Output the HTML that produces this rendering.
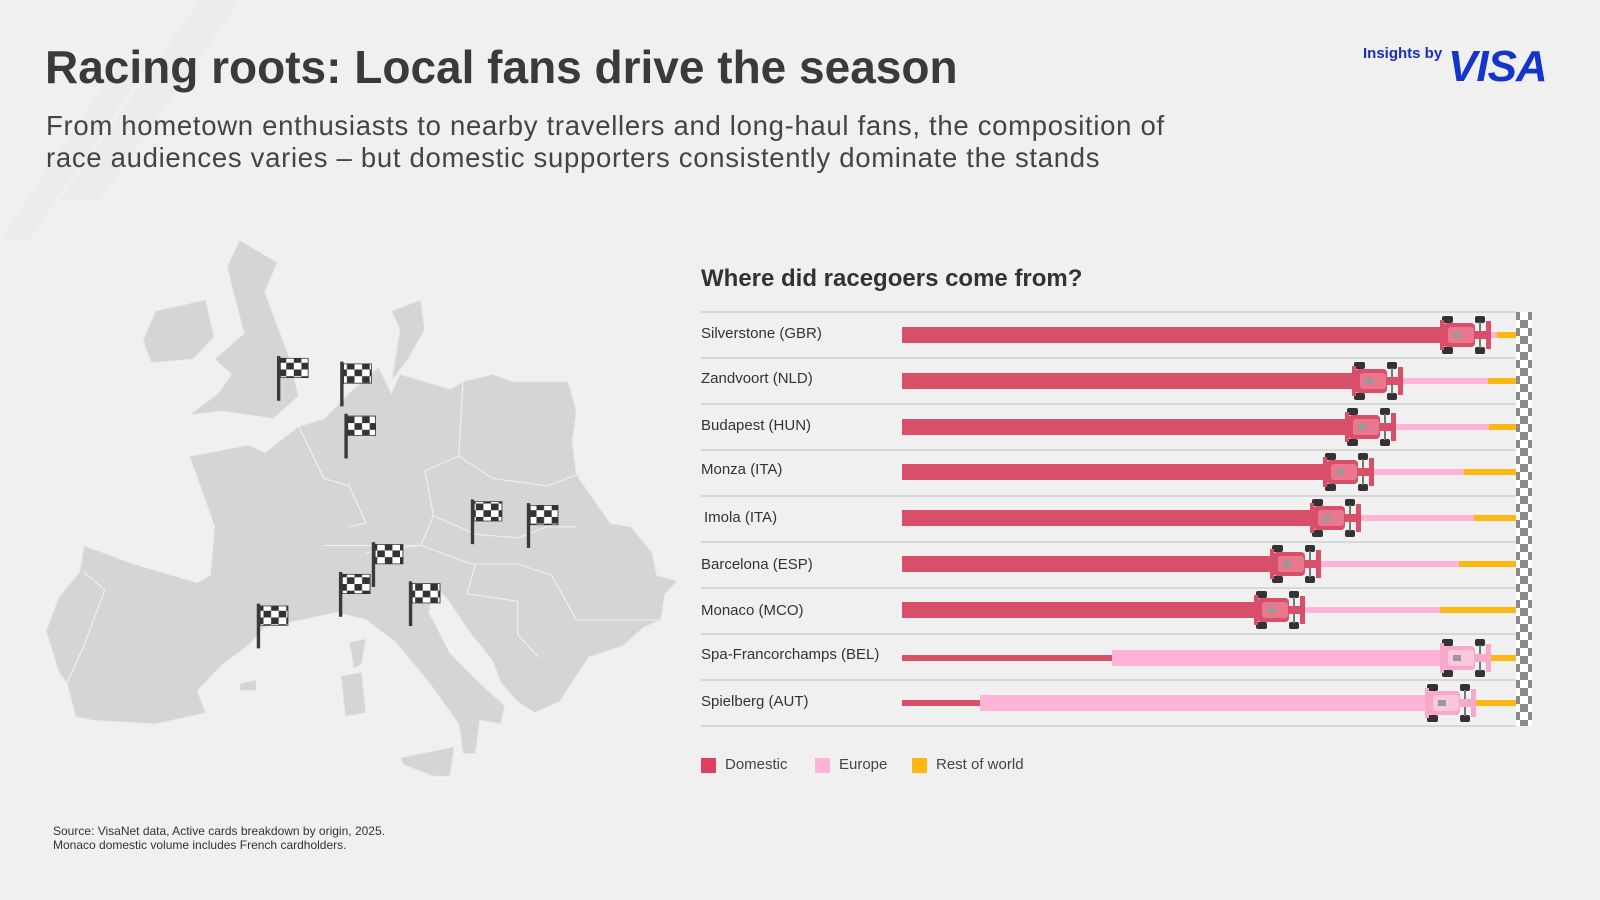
<!DOCTYPE html>
<html><head><meta charset="utf-8"><style>
body{margin:0;width:1600px;height:900px;background:#f0f0f0;font-family:"Liberation Sans",sans-serif;overflow:hidden;position:relative;color:#333}
.t{position:absolute;white-space:nowrap}
</style></head><body>
<svg width="1600" height="900" style="position:absolute;left:0;top:0">
<defs>
<pattern id="chk" width="16" height="16" patternUnits="userSpaceOnUse"><rect width="16" height="16" fill="#fff"/><rect width="8" height="8" fill="#8a8a8a"/><rect x="8" y="8" width="8" height="8" fill="#8a8a8a"/></pattern>
<pattern id="fl" width="36" height="36" patternUnits="userSpaceOnUse"><rect width="36" height="36" fill="#fff"/><rect width="18" height="18" fill="#333"/><rect x="18" y="18" width="18" height="18" fill="#333"/></pattern>
<g id="car" >
<rect x="2" y="-19" width="11" height="7" rx="2" fill="#333"/><rect x="2" y="12" width="11" height="7" rx="2" fill="#333"/>
<rect x="35" y="-19" width="10" height="7" rx="2" fill="#333"/><rect x="35" y="12" width="10" height="7" rx="2" fill="#333"/>
<rect x="39" y="-13" width="2" height="26" fill="#777"/>
<rect x="0" y="-15" width="4" height="30" fill="var(--c1)"/>
<rect x="3" y="-12" width="32" height="24" rx="4" fill="var(--c1)"/>
<rect x="8" y="-8" width="26" height="16" rx="3" fill="var(--c2)"/>
<rect x="34" y="-4" width="14" height="8" fill="var(--c1)"/>
<rect x="46" y="-14" width="5" height="28" fill="var(--c1)"/>
<rect x="13" y="-3" width="8" height="6" fill="#999"/>
</g>
</defs>
<g fill="#ebebeb" opacity="0.7"><path d="M0 240 L120 60 L150 60 L30 240Z"/><path d="M60 200 L200 0 L240 0 L100 200Z"/></g>
<g transform="translate(29,217.7) scale(0.4213,0.3724)" fill="#d5d5d5" stroke="#ececec" stroke-width="3">
<path d="M130 880 L250 930 L400 980 L430 960 L440 830 L380 640 L430 630 L520 610 L560 630 L640 560 L700 540 L760 470 L800 430 L830 400 L860 470 L880 420 L1000 460 L1030 440 L1100 420 L1150 440 L1280 440 L1300 520 L1290 600 L1300 690 L1380 820 L1430 830 L1480 900 L1490 960 L1540 975 L1510 1010 L1500 1080 L1460 1100 L1410 1150 L1330 1180 L1300 1230 L1260 1300 L1200 1330 L1160 1300 L1120 1250 L1100 1190 L1050 1120 L990 1020 L960 990 L950 1060 L1000 1170 L1080 1260 L1130 1310 L1120 1360 L1070 1350 L1060 1440 L1030 1440 L1020 1360 L950 1250 L870 1140 L800 1080 L730 1060 L650 1080 L560 1100 L520 1150 L460 1200 L400 1270 L420 1330 L300 1360 L150 1350 L110 1340 L90 1250 L70 1220 L40 1110 L70 1020 L120 950Z"/>
<path d="M860 250 L930 220 L940 300 L900 380 L860 440 L880 300Z"/>
<path d="M500 60 L590 120 L560 200 L620 380 L640 480 L580 540 L460 520 L380 530 L450 470 L480 420 L440 380 L510 310 L480 180 L470 130Z"/>
<path d="M300 250 L420 220 L440 320 L390 380 L290 390 L270 330Z"/>
<path d="M760 1140 L800 1130 L790 1200 L770 1210Z"/><path d="M740 1230 L790 1220 L800 1330 L750 1340Z"/>
<path d="M880 1450 L1010 1420 L1000 1500 L960 1500 L890 1470Z"/><path d="M500 1250 L540 1240 L540 1270 L500 1270Z"/>
<g fill="none" stroke="#eee" stroke-width="3"><path d="M640 560 L700 700 L760 720 L800 820 L760 830"/><path d="M1030 440 L1020 640 L940 680 L960 800 L930 880 L800 900"/><path d="M1020 640 L1100 700 L1230 720 L1300 690"/><path d="M960 800 L1060 850 L1160 860 L1230 830 L1300 830"/><path d="M700 880 L760 880 L840 880 L930 880 L1050 930 L1160 930 L1240 960"/><path d="M1060 930 L1040 1010 L1160 1030 L1160 1120 L1210 1180"/><path d="M1240 960 L1300 1080 L1500 1080"/><path d="M380 640 L440 830"/><path d="M130 950 L180 1000 L130 1150 L90 1250"/></g>
</g>
<g transform="translate(36,222) scale(0.4213,0.3724)">
<g fill="#3a3a3a">
<rect x="572" y="360" width="8" height="120"/><rect x="722" y="375" width="8" height="120"/><rect x="732" y="515" width="8" height="120"/><rect x="1032" y="745" width="8" height="120"/><rect x="1165" y="755" width="8" height="120"/><rect x="797" y="860" width="8" height="120"/><rect x="719" y="940" width="8" height="120"/><rect x="885" y="965" width="8" height="120"/><rect x="524" y="1025" width="8" height="120"/></g>
<g fill="url(#fl)" stroke="#333" stroke-width="2">
<rect x="580" y="366" width="66" height="52"/><rect x="730" y="381" width="66" height="52"/><rect x="740" y="521" width="66" height="52"/><rect x="1040" y="751" width="66" height="52"/><rect x="1173" y="761" width="66" height="52"/><rect x="805" y="866" width="66" height="52"/><rect x="727" y="946" width="66" height="52"/><rect x="893" y="971" width="66" height="52"/><rect x="532" y="1031" width="66" height="52"/></g>
</g>
<g stroke="#cfcfcf" stroke-width="1.5">
<line x1="701" y1="312" x2="1516" y2="312"/><line x1="701" y1="358" x2="1516" y2="358"/><line x1="701" y1="404" x2="1516" y2="404"/><line x1="701" y1="450" x2="1516" y2="450"/><line x1="701" y1="496" x2="1516" y2="496"/><line x1="701" y1="542" x2="1516" y2="542"/><line x1="701" y1="588" x2="1516" y2="588"/><line x1="701" y1="634" x2="1516" y2="634"/><line x1="701" y1="680" x2="1516" y2="680"/><line x1="701" y1="726" x2="1516" y2="726"/></g>
<rect x="1516" y="312" width="16" height="414" fill="url(#chk)"/>
<g>
<rect x="902" y="327" width="540" height="16" fill="#d84f6a"/><rect x="1490" y="332" width="7" height="6" fill="#ffb3d6"/><rect x="1497" y="332" width="19" height="6" fill="#fbb813"/>
<rect x="902" y="373" width="452" height="16" fill="#d84f6a"/><rect x="1403" y="378" width="85" height="6" fill="#ffb3d6"/><rect x="1488" y="378" width="28" height="6" fill="#fbb813"/>
<rect x="902" y="419" width="445" height="16" fill="#d84f6a"/><rect x="1396" y="424" width="93" height="6" fill="#ffb3d6"/><rect x="1489" y="424" width="27" height="6" fill="#fbb813"/>
<rect x="902" y="464" width="423" height="16" fill="#d84f6a"/><rect x="1374" y="469" width="90" height="6" fill="#ffb3d6"/><rect x="1464" y="469" width="52" height="6" fill="#fbb813"/>
<rect x="902" y="510" width="410" height="16" fill="#d84f6a"/><rect x="1361" y="515" width="113" height="6" fill="#ffb3d6"/><rect x="1474" y="515" width="42" height="6" fill="#fbb813"/>
<rect x="902" y="556" width="370" height="16" fill="#d84f6a"/><rect x="1320" y="561" width="139" height="6" fill="#ffb3d6"/><rect x="1459" y="561" width="57" height="6" fill="#fbb813"/>
<rect x="902" y="602" width="354" height="16" fill="#d84f6a"/><rect x="1305" y="607" width="135" height="6" fill="#ffb3d6"/><rect x="1440" y="607" width="76" height="6" fill="#fbb813"/>
<rect x="902" y="655" width="210" height="6" fill="#d84f6a"/><rect x="1112" y="650" width="330" height="16" fill="#ffb3d6"/><rect x="1490" y="655" width="26" height="6" fill="#fbb813"/>
<rect x="902" y="700" width="78" height="6" fill="#d84f6a"/><rect x="980" y="695" width="447" height="16" fill="#ffb3d6"/><rect x="1475" y="700" width="41" height="6" fill="#fbb813"/>
</g>
<g style="--c1:#d84f6a;--c2:#e9788f">
<use href="#car" x="1440" y="335"/><use href="#car" x="1352" y="381"/><use href="#car" x="1345" y="427"/><use href="#car" x="1323" y="472"/><use href="#car" x="1310" y="518"/><use href="#car" x="1270" y="564"/><use href="#car" x="1254" y="610"/></g>
<g style="--c1:#f7a9cc;--c2:#fbc6de">
<use href="#car" x="1440" y="658"/><use href="#car" x="1425" y="703"/></g>
<rect x="701" y="758" width="15" height="15" fill="#e0405f"/><rect x="815" y="758" width="15" height="15" fill="#ffb3d6"/><rect x="912" y="758" width="15" height="15" fill="#fbb813"/>
</svg>
<div class="t" style="left:45px;top:40px;font-size:46px;font-weight:bold;color:#3a3a3a">Racing roots: Local fans drive the season</div>
<div class="t" style="left:46px;top:110px;font-size:27.5px;line-height:32px;color:#444;letter-spacing:0.7px">From hometown enthusiasts to nearby travellers and long-haul fans, the composition of<br>race audiences varies – but domestic supporters consistently dominate the stands</div>
<div class="t" style="left:1363px;top:45px;font-size:15px;color:#1a2fb8;font-weight:bold">Insights by</div>
<div class="t" style="left:1448px;top:42px;font-size:44px;font-weight:900;font-style:italic;color:#1434cb;letter-spacing:-1px">VISA</div>
<div class="t" style="left:701px;top:265px;font-size:24px;font-weight:bold;color:#333">Where did racegoers come from?</div>
<div class="t" style="left:701px;top:326px;font-size:15px;color:#333;line-height:16px">Silverstone (GBR)</div>
<div class="t" style="left:701px;top:371px;font-size:15px;color:#333;line-height:16px">Zandvoort (NLD)</div>
<div class="t" style="left:701px;top:418px;font-size:15px;color:#333;line-height:16px">Budapest (HUN)</div>
<div class="t" style="left:701px;top:462px;font-size:15px;color:#333;line-height:16px">Monza (ITA)</div>
<div class="t" style="left:704px;top:510px;font-size:15px;color:#333;line-height:16px">Imola (ITA)</div>
<div class="t" style="left:701px;top:557px;font-size:15px;color:#333;line-height:16px">Barcelona (ESP)</div>
<div class="t" style="left:701px;top:603px;font-size:15px;color:#333;line-height:16px">Monaco (MCO)</div>
<div class="t" style="left:701px;top:647px;font-size:15px;color:#333;line-height:16px">Spa-Francorchamps (BEL)</div>
<div class="t" style="left:701px;top:694px;font-size:15px;color:#333;line-height:16px">Spielberg (AUT)</div>
<div class="t" style="left:725px;top:757px;font-size:15px;color:#444;line-height:16px">Domestic</div>
<div class="t" style="left:839px;top:757px;font-size:15px;color:#444;line-height:16px">Europe</div>
<div class="t" style="left:936px;top:757px;font-size:15px;color:#444;line-height:16px">Rest of world</div>
<div class="t" style="left:53px;top:824px;font-size:12px;line-height:14px;color:#333">Source: VisaNet data, Active cards breakdown by origin, 2025.<br>Monaco domestic volume includes French cardholders.</div>
</body></html>
